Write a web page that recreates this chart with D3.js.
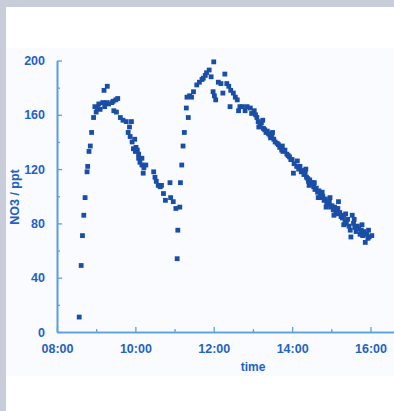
<!DOCTYPE html>
<html>
<head>
<meta charset="utf-8">
<script src="https://cdn.jsdelivr.net/npm/d3@7"></script>
<style>
  html, body { margin: 0; padding: 0; background: #c9cdd9; }
  svg { display: block; }
  text { font-family: "Liberation Sans", Arial, sans-serif; font-weight: bold; }
</style>
</head>
<body>
<div id="chart"></div>
<script>
const times = [
  "08:34","08:37","08:39","08:41","08:43","08:46","08:47","08:49","08:51","08:53",
  "08:56","08:58","09:00","09:02","09:04","09:06","09:10","09:12","09:13","09:16",
  "09:17","09:19","09:24","09:26","09:27","09:30","09:31","09:33","09:37","09:41",
  "09:46","09:49","09:51","09:52","09:54","09:55","09:57","09:59","10:00","10:01",
  "10:03","10:05","10:05","10:07","10:10","10:10","10:12","10:13","10:16","10:28",
  "10:30","10:32","10:35","10:38","10:40","10:43","10:46","10:53","10:54","10:58",
  "11:02","11:04","11:05","11:08","11:09","11:11","11:13","11:15","11:18","11:19",
  "11:21","11:23","11:26","11:29","11:34","11:38","11:42","11:44","11:47","11:49",
  "11:53","11:56","11:59","12:00","12:01","12:03","12:07","12:11","12:14","12:17",
  "12:20","12:23","12:25","12:26","12:30","12:33","12:36","12:38","12:40","12:44",
  "12:48","12:51","12:56","12:58","13:02","13:06","13:08","13:09","13:11","13:13",
  "13:16","13:18","13:20","13:22","13:24","13:26","13:29","13:32","13:34","13:37",
  "13:39","13:41","13:44","13:46","13:49","13:52","13:54","13:56","13:58","14:00",
  "14:02","14:03","14:07","14:10","14:12","14:14","14:16","14:18","14:20","14:22",
  "14:24","14:25","14:27","14:29","14:31","14:33","14:35","14:37","14:39","14:41",
  "14:43","14:45","14:47","14:49","14:51","14:53","14:55","14:57","14:59","15:01",
  "15:03","15:05","15:07","15:09","15:11","15:13","15:15","15:17","15:19","15:19",
  "15:21","15:23","15:25","15:27","15:29","15:30","15:32","15:34","15:36","15:38",
  "15:40","15:42","15:44","15:46","15:48","15:50","15:52","15:54","15:56","15:58",
  "16:02","13:15","13:30","13:45","14:08","14:21","14:26","14:34","14:40","14:46",
  "14:52","14:58","15:04","15:10","15:22","15:35","15:47","15:57","13:04","13:27"
];
const no3 = [
  11,49,71,86,99,118,122,133,137,147,
  158,166,162,165,168,164,169,178,166,169,
  181,168,169,170,163,171,162,172,158,156,
  155,147,151,144,155,140,135,142,133,136,
  134,128,131,125,123,128,117,121,123,118,
  114,111,108,107,108,102,97,110,99,96,
  91,54,75,92,110,123,137,147,165,173,
  158,174,173,177,182,184,186,187,189,191,
  193,188,177,199,174,171,184,183,176,190,
  183,181,166,178,176,173,171,163,166,166,
  163,166,165,161,163,158,155,151,152,154,
  150,149,147,148,146,145,144,142,140,139,
  138,136,134,133,134,131,130,129,127,127,
  117,124,122,120,122,118,119,116,117,114,
  113,111,112,109,110,107,105,106,103,104,
  101,99,100,97,98,95,94,96,92,93,
  90,92,89,87,96,88,85,84,86,79,
  82,80,83,78,75,70,86,80,77,74,
  78,76,72,75,71,74,66,72,69,70,
  71,156,147,137,126,120,108,110,99,103,
  92,99,86,91,87,83,79,75,160,143
];
const yTicks = [0, 40, 80, 120, 160, 200];
const yMinor = [20, 60, 100, 140, 180];
const xTickLabels = ["08:00", "10:00", "12:00", "14:00", "16:00"];
const xMinorLabels = ["09:00", "11:00", "13:00", "15:00"];

const W = 394, H = 411;
const parse = d3.timeParse("%H:%M");
const fmt = d3.timeFormat("%H:%M");
const textBlue = "#1f62c2";
const axisBlue = "#5a9fe2";
const dotBlue = "#1a4ea6";

const svg = d3.select("#chart").append("svg")
  .attr("width", W)
  .attr("height", H);

// white panel + faint plot band
svg.append("rect").attr("x", 6).attr("y", 7).attr("width", W - 6).attr("height", H - 7).attr("fill", "#ffffff");
svg.append("rect").attr("x", 6).attr("y", 48).attr("width", W - 6).attr("height", 328).attr("fill", "#fafbfe");

const x = d3.scaleTime()
  .domain([parse("08:00"), parse("16:36")])
  .range([57, 394]);
const y = d3.scaleLinear()
  .domain([0, 200])
  .range([332, 60.5]);

// y axis (ticks point inward)
const gy = svg.append("g").attr("transform", "translate(57,0)");
gy.call(d3.axisLeft(y).tickValues(yTicks).tickSizeInner(-5).tickSizeOuter(0).tickPadding(12));
gy.append("g").call(d3.axisLeft(y).tickValues(yMinor).tickSizeInner(-3).tickSizeOuter(0).tickFormat(""));

// x axis
const gx = svg.append("g").attr("transform", "translate(0,332)");
gx.call(d3.axisBottom(x).tickValues(xTickLabels.map(parse)).tickFormat(fmt)
  .tickSizeInner(-5).tickSizeOuter(0).tickPadding(12));
gx.append("g").call(d3.axisBottom(x).tickValues(xMinorLabels.map(parse))
  .tickSizeInner(-3).tickSizeOuter(0).tickFormat(""));

svg.selectAll(".domain").attr("stroke", axisBlue).attr("stroke-width", 1.6);
svg.selectAll(".tick line").attr("stroke", axisBlue).attr("stroke-width", 1.3);
svg.selectAll(".tick text")
  .attr("fill", textBlue)
  .style("font-size", "12.5px")
  .style("font-family", "'Liberation Sans', Arial, sans-serif")
  .style("font-weight", "bold");

// axis titles
svg.append("text")
  .attr("x", 253).attr("y", 371)
  .attr("text-anchor", "middle")
  .attr("fill", textBlue)
  .style("font-size", "12px")
  .text("time");

svg.append("text")
  .attr("transform", "translate(19,197) rotate(-90)")
  .attr("text-anchor", "middle")
  .attr("fill", textBlue)
  .style("font-size", "12.5px")
  .text("NO3 / ppt");

// points
const pts = times.map((t, i) => ({ t: parse(t), v: no3[i] }));
const s = 4.8;
svg.append("g").selectAll("rect")
  .data(pts)
  .enter().append("rect")
  .attr("x", d => x(d.t) - s / 2)
  .attr("y", d => y(d.v) - s / 2)
  .attr("width", s)
  .attr("height", s)
  .attr("fill", dotBlue);
</script>
</body>
</html>
